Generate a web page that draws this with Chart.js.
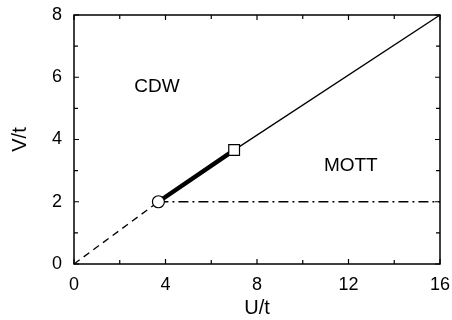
<!DOCTYPE html>
<html><head><meta charset="utf-8">
<script src="https://cdn.jsdelivr.net/npm/chart.js@4/dist/chart.umd.min.js"></script>
<style>html,body{margin:0;padding:0;background:#fff}#wrap{width:452px;height:320px}</style>
</head><body><div id="wrap"><canvas id="c" width="452" height="320"></canvas></div>
<script>
// Phase boundary data (U/t, V/t)
const dashedU = [0, 3.69];
const dashedV = [0, 2.0];
const thickU = [3.69, 7.0];
const thickV = [2.0, 3.66];
const thinU = [7.0, 16.0];
const thinV = [3.66, 8.0];
const dashDotU = [3.69, 16.0];
const dashDotV = [2.0, 2.0];
const circleU = [3.69];
const circleV = [2.0];
const squareU = [7.0];
const squareV = [3.66];
const xTickLabels = [0, 4, 8, 12, 16];
const yTickLabels = [0, 2, 4, 6, 8];
const xMinorTicks = [2, 6, 10, 14];
const yMinorTicks = [1, 3, 5, 7];
const regionLabels = ['CDW', 'MOTT'];
const regionU = [3.63, 12.1];
const regionV = [5.69, 3.15];

const pts = (xs, ys) => xs.map((x, i) => ({x: x, y: ys[i]}));
const FONT = 'Liberation Sans, Arial, Helvetica, sans-serif';

const framePlugin = {
  id: 'frame',
  afterDatasetsDraw(chart) {
    const {ctx, chartArea: a, scales: {x, y}} = chart;
    ctx.save();
    ctx.strokeStyle = '#000';
    ctx.lineWidth = 1.5;
    ctx.strokeRect(a.left, a.top, a.right - a.left, a.bottom - a.top);
    ctx.lineWidth = 1.2;
    const major = 5, minor = 4;
    const drawX = (v, len) => {
      const p = x.getPixelForValue(v);
      ctx.beginPath();
      ctx.moveTo(p, a.bottom); ctx.lineTo(p, a.bottom - len);
      ctx.moveTo(p, a.top); ctx.lineTo(p, a.top + len);
      ctx.stroke();
    };
    const drawY = (v, len) => {
      const p = y.getPixelForValue(v);
      ctx.beginPath();
      ctx.moveTo(a.left, p); ctx.lineTo(a.left + len, p);
      ctx.moveTo(a.right, p); ctx.lineTo(a.right - len, p);
      ctx.stroke();
    };
    xTickLabels.forEach(v => drawX(v, major));
    xMinorTicks.forEach(v => drawX(v, minor));
    yTickLabels.forEach(v => drawY(v, major));
    yMinorTicks.forEach(v => drawY(v, minor));
    ctx.fillStyle = '#000';
    ctx.font = '19px ' + FONT;
    ctx.textAlign = 'center';
    ctx.textBaseline = 'middle';
    regionLabels.forEach((t, i) => {
      ctx.fillText(t, x.getPixelForValue(regionU[i]), y.getPixelForValue(regionV[i]));
    });
    ctx.restore();
  }
};

new Chart(document.getElementById('c'), {
  type: 'scatter',
  data: {
    datasets: [
      {data: pts(dashedU, dashedV), order: 2, showLine: true, borderColor: '#000', borderWidth: 1.3, borderDash: [7, 5], pointRadius: 0},
      {data: pts(dashDotU, dashDotV), order: 2, showLine: true, borderColor: '#000', borderWidth: 1.3, borderDash: [10, 4, 2, 4], pointRadius: 0},
      {data: pts(thinU, thinV), order: 2, showLine: true, borderColor: '#000', borderWidth: 1.3, pointRadius: 0},
      {data: pts(thickU, thickV), order: 2, showLine: true, borderColor: '#000', borderWidth: 4.5, pointRadius: 0, borderCapStyle: 'butt'},
      {data: pts(circleU, circleV), order: 0, showLine: false, pointStyle: 'circle', pointRadius: 6, pointBackgroundColor: '#fff', pointBorderColor: '#000', pointBorderWidth: 1.2},
      {data: pts(squareU, squareV), order: 0, showLine: false, pointStyle: 'rect', pointRadius: 7.6, pointBackgroundColor: '#fff', pointBorderColor: '#000', pointBorderWidth: 1.2}
    ]
  },
  options: {
    responsive: false,
    animation: false,
    events: [],
    layout: {padding: {top: 15, right: 12, left: 0, bottom: 0}},
    plugins: {legend: {display: false}, tooltip: {enabled: false}},
    scales: {
      x: {
        type: 'linear', min: 0, max: 16,
        afterBuildTicks: s => { s.ticks = xTickLabels.map(v => ({value: v})); },
        afterFit: s => { s.height = 56; s.paddingLeft = 0; s.paddingRight = 0; },
        grid: {display: false, drawTicks: false},
        border: {display: false},
        ticks: {color: '#000', font: {size: 18, family: FONT}, padding: 10, maxRotation: 0, autoSkip: false},
        title: {display: true, text: 'U/t', color: '#000', font: {size: 20, family: FONT}, padding: {top: 0, bottom: 0}}
      },
      y: {
        type: 'linear', min: 0, max: 8,
        afterBuildTicks: s => { s.ticks = yTickLabels.map(v => ({value: v})); },
        afterFit: s => { s.width = 74; s.paddingTop = 0; s.paddingBottom = 0; },
        grid: {display: false, drawTicks: false},
        border: {display: false},
        ticks: {color: '#000', font: {size: 18, family: FONT}, padding: 12, autoSkip: false},
        title: {display: true, text: 'V/t', color: '#000', font: {size: 20, family: FONT}, padding: {top: 8.5, bottom: 0}}
      }
    }
  },
  plugins: [framePlugin]
});
</script></body></html>
